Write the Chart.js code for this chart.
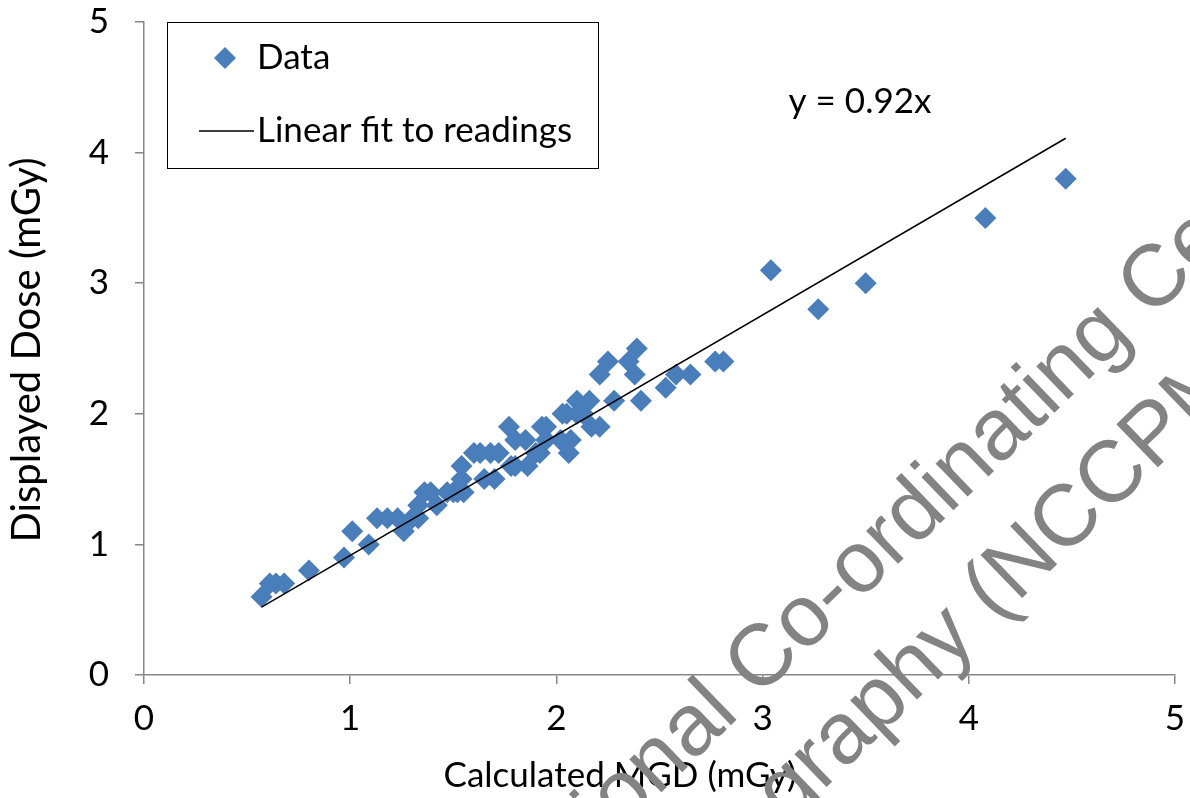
<!DOCTYPE html>
<html lang="en">

<head>
    <script src="https://cdnjs.cloudflare.com/ajax/libs/Chart.js/4.4.1/chart.umd.min.js"></script>
    <title>Displayed dose vs calculated MGD</title>
    <style>
        body { margin: 0; background: #ffffff; }
        #wrap { width: 1190px; height: 798px; }
    </style>
</head>

<body>
    <div id="wrap"><canvas id="doseGraph" width="1190" height="798"></canvas></div>

    <script>
        // readings
        let mgd = [0.57, 0.61, 0.64, 0.68, 0.80, 0.97, 1.01, 1.09, 1.13, 1.18, 1.23, 1.26, 1.30, 1.33, 1.33, 1.36, 1.39, 1.42, 1.47, 1.50,
            1.52, 1.54, 1.54, 1.55, 1.60, 1.63, 1.65, 1.68, 1.70, 1.72, 1.77, 1.78, 1.80, 1.80, 1.85, 1.86, 1.90, 1.92, 1.93, 1.95,
            1.95, 2.02, 2.03, 2.05, 2.06, 2.07, 2.10, 2.10, 2.13, 2.16, 2.17, 2.21, 2.21, 2.25, 2.28, 2.35, 2.38, 2.39, 2.41, 2.53,
            2.58, 2.65, 2.77, 2.81, 3.04, 3.27, 3.50, 4.08, 4.47]
        let displayed = [0.6, 0.7, 0.7, 0.7, 0.8, 0.9, 1.1, 1.0, 1.2, 1.2, 1.2, 1.1, 1.2, 1.2, 1.3, 1.4, 1.4, 1.3, 1.4, 1.4,
            1.4, 1.5, 1.6, 1.4, 1.7, 1.7, 1.5, 1.7, 1.5, 1.7, 1.9, 1.6, 1.8, 1.6, 1.8, 1.6, 1.7, 1.7, 1.9, 1.9,
            1.8, 1.8, 2.0, 2.0, 1.7, 1.8, 2.1, 2.0, 2.0, 2.1, 1.9, 2.3, 1.9, 2.4, 2.1, 2.4, 2.3, 2.5, 2.1, 2.2,
            2.3, 2.3, 2.4, 2.4, 3.1, 2.8, 3.0, 3.5, 3.8]

        // fitted line end points (y = 0.92x)
        let fitX = [0.57, 4.47]
        let fitY = [0.52, 4.11]
        let fitLabel = "y = 0.92x"

        let xTicks = [0, 1, 2, 3, 4, 5]
        let yTicks = [0, 1, 2, 3, 4, 5]
        let xTitle = "Calculated MGD (mGy)"
        let yTitle = "Displayed Dose (mGy)"

        const FONT = "Lato, sans-serif"
        const BLUE = "#4a7ebb"
        const AXIS = "#868686"

        let points = mgd.map((x, i) => ({ x: x, y: displayed[i] }))
        let fitLine = fitX.map((x, i) => ({ x: x, y: fitY[i] }))

        // legend box drawn inside the plot, the equation label and both axis titles
        const boxLegend = {
            id: "boxLegend",
            afterDatasetsDraw(chart) {
                const ctx = chart.ctx
                ctx.save()
                ctx.strokeStyle = "#000000"
                ctx.lineWidth = 1
                ctx.strokeRect(167.5, 22.5, 431, 146)

                ctx.fillStyle = BLUE
                ctx.beginPath()
                ctx.moveTo(225, 47); ctx.lineTo(236, 58); ctx.lineTo(225, 69); ctx.lineTo(214, 58)
                ctx.closePath(); ctx.fill()

                ctx.strokeStyle = "#000000"
                ctx.lineWidth = 1.5
                ctx.beginPath(); ctx.moveTo(199, 131); ctx.lineTo(254, 131); ctx.stroke()

                ctx.fillStyle = "#000000"
                ctx.font = "35px " + FONT
                ctx.textBaseline = "middle"
                ctx.textAlign = "left"
                ctx.fillText(chart.data.datasets[0].label, 257, 58)
                ctx.fillText(chart.data.datasets[1].label, 257, 131)

                ctx.textAlign = "center"
                ctx.fillText(fitLabel, 860, 102)
                ctx.fillText(xTitle, 620, 776)

                ctx.font = "40px " + FONT
                ctx.translate(27, 350)
                ctx.rotate(-Math.PI / 2)
                ctx.fillText(yTitle, 0, 0)
                ctx.restore()
            }
        }

        // grey watermark across the lower right
        const watermark = {
            id: "watermark",
            afterDraw(chart) {
                const ctx = chart.ctx
                ctx.save()
                ctx.font = "87px 'Liberation Sans', Arial, sans-serif"
                ctx.fillStyle = "#838383"
                ctx.textBaseline = "alphabetic"
                ctx.translate(758, 699)
                ctx.rotate(-44 * Math.PI / 180)
                ctx.fillText("National Co-ordinating Centre for the", -ctx.measureText("National ").width, 0)
                ctx.fillText("Physics of Mammography (NCCPM)", 224 - ctx.measureText("Physics of Mammography ").width, 111)
                ctx.restore()
            }
        }

        new Chart("doseGraph", {
            type: "scatter",
            data: {
                datasets: [{
                    label: "Data",
                    data: points,
                    pointStyle: "rectRot",
                    pointRadius: 11,
                    pointHoverRadius: 11,
                    backgroundColor: BLUE,
                    borderColor: BLUE,
                    borderWidth: 0,
                    order: 2
                }, {
                    label: "Linear fit to readings",
                    type: "line",
                    data: fitLine,
                    borderColor: "#000000",
                    borderWidth: 1.5,
                    pointRadius: 0,
                    fill: false,
                    order: 1
                }]
            },
            options: {
                responsive: false,
                animation: false,
                layout: { padding: { top: 22, right: 15, left: 0, bottom: 0 } },
                plugins: {
                    legend: { display: false },
                    tooltip: { enabled: false }
                },
                scales: {
                    x: {
                        type: "linear",
                        min: 0,
                        max: 5,
                        afterBuildTicks: s => { s.ticks = xTicks.map(v => ({ value: v })) },
                        afterFit: s => { s.height = 123; s.paddingLeft = 0; s.paddingRight = 0 },
                        border: { color: AXIS, width: 1.5 },
                        grid: { drawOnChartArea: false, drawTicks: true, tickLength: 9, color: AXIS, lineWidth: 1.5 },
                        ticks: { color: "#000000", font: { family: FONT, size: 35 }, padding: 14 },
                        title: { display: false }
                    },
                    y: {
                        type: "linear",
                        min: 0,
                        max: 5,
                        afterBuildTicks: s => { s.ticks = yTicks.map(v => ({ value: v })) },
                        afterFit: s => { s.width = 144; s.paddingTop = 0; s.paddingBottom = 0 },
                        border: { color: AXIS, width: 1.5 },
                        grid: { drawOnChartArea: false, drawTicks: true, tickLength: 9, color: AXIS, lineWidth: 1.5 },
                        ticks: { color: "#000000", font: { family: FONT, size: 35 }, padding: 26 },
                        title: { display: false }
                    }
                }
            },
            plugins: [boxLegend, watermark]
        })
    </script>
</body>

</html>
